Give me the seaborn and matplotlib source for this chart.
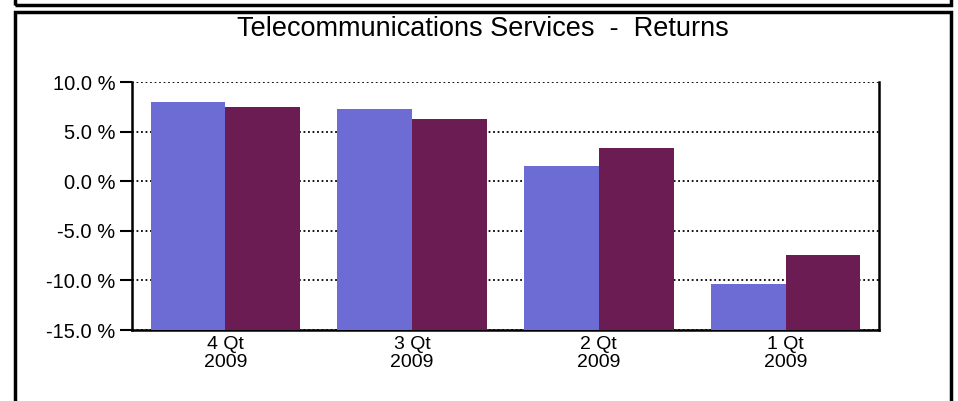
import numpy as np
import pandas as pd
import seaborn as sns
import matplotlib.pyplot as plt
from matplotlib.patches import Rectangle

# values
quarters = ['4 Qt\n2009', '3 Qt\n2009', '2 Qt\n2009', '1 Qt\n2009']
series_a = [8.0, 7.3, 1.5, -10.35]
series_b = [7.5, 6.3, 3.35, -7.45]
yticks = [-15.0, -10.0, -5.0, 0.0, 5.0, 10.0]
base = -15.0

df = pd.DataFrame({
    'Quarter': quarters * 2,
    'Series': ['A'] * 4 + ['B'] * 4,
    'Return': series_a + series_b,
})
# bars in the reference rise from the bottom of the axis, not from zero
df['Height'] = df['Return'] - base

sns.set_style('white')
plt.rcParams['font.family'] = ['Liberation Sans', 'DejaVu Sans']
plt.rcParams['text.color'] = 'black'
plt.rcParams['xtick.color'] = 'black'
plt.rcParams['ytick.color'] = 'black'

fig = plt.figure(figsize=(9.58, 4.01), dpi=100)
ax = fig.add_axes([132 / 958, 1 - 330 / 401, (879 - 132) / 958, (330 - 82) / 401])

sns.barplot(data=df, x='Quarter', y='Height', hue='Series',
            palette=['#6c6cd4', '#6b1c52'], bottom=base, width=0.8,
            saturation=1, legend=False, ax=ax, zorder=3, linewidth=0)

ax.set_ylim(base, 10)
ax.set_xlim(-0.5, 3.5)
ax.set_yticks(yticks)
ax.set_yticklabels([f'{v:.1f} %' for v in yticks])
ax.set_xlabel('')
ax.set_ylabel('')
ax.yaxis.grid(True, linestyle=(0, (1, 1.5)), color='black', linewidth=1.3, zorder=0)
ax.set_axisbelow(True)
ax.tick_params(axis='y', length=9, width=1.5, color='black', labelsize=14.5, pad=3, left=True)
ax.tick_params(axis='x', length=0, labelsize=14, pad=4)
for lab in ax.get_xticklabels():
    lab.set_linespacing(1.08)
for side in ['left', 'right', 'bottom']:
    ax.spines[side].set_visible(True)
    ax.spines[side].set_color('black')
    ax.spines[side].set_linewidth(1.8)
ax.spines['top'].set_visible(False)

fig.text(483 / 958, 1 - 29 / 401, 'Telecommunications Services  -  Returns',
         ha='center', va='center', fontsize=19.5)

# outer frames
fig.patches.append(Rectangle((15 / 958, 1 - 5 / 401), (951 - 15) / 958, 0.1,
                             transform=fig.transFigure, fill=False,
                             edgecolor='black', linewidth=2.5))
fig.patches.append(Rectangle((15 / 958, -0.1), (951 - 15) / 958, 1.1 - 12 / 401,
                             transform=fig.transFigure, fill=False,
                             edgecolor='black', linewidth=2.5))

fig.savefig('out.png', dpi=100)
